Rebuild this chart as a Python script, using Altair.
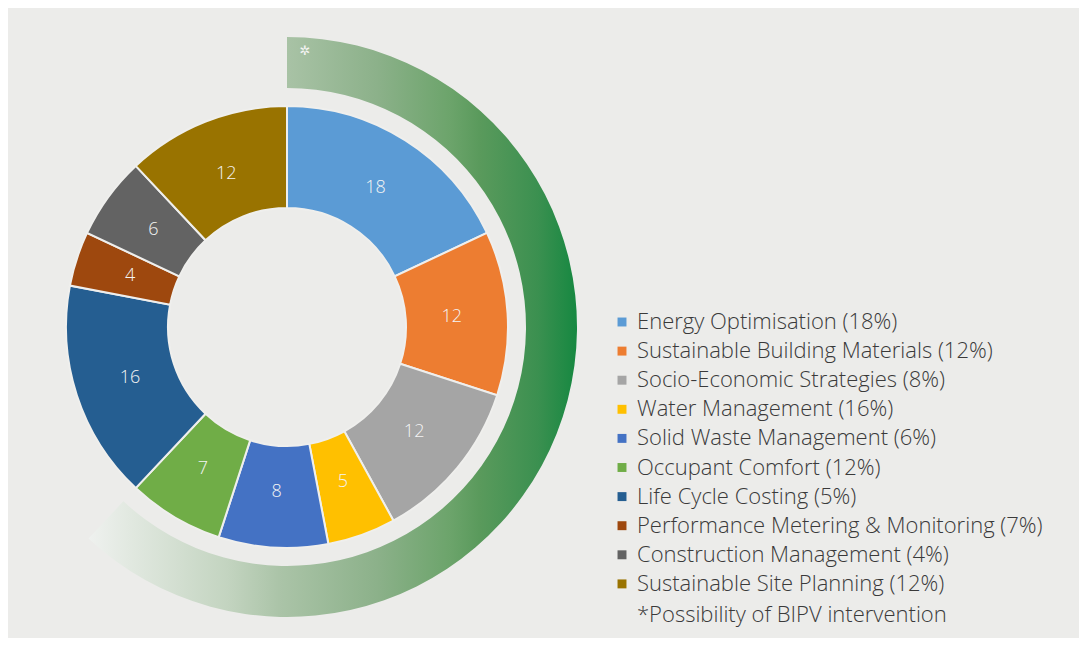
import math
import altair as alt
import pandas as pd

# ---- data ----
categories = [
    "Energy Optimisation (18%)",
    "Sustainable Building Materials (12%)",
    "Socio-Economic Strategies (8%)",
    "Water Management (16%)",
    "Solid Waste Management (6%)",
    "Occupant Comfort (12%)",
    "Life Cycle Costing (5%)",
    "Performance Metering & Monitoring (7%)",
    "Construction Management (4%)",
    "Sustainable Site Planning (12%)",
]
values = [18, 12, 12, 5, 8, 7, 16, 4, 6, 12]
colors = ["#5b9bd5", "#ed7d31", "#a5a5a5", "#ffc000", "#4472c4",
          "#70ad47", "#255e91", "#9e480e", "#636363", "#997300"]
bipv_count = 6  # first six categories sit under the BIPV arc
footnote = ["*Possibility of BIPV intervention"]
star = ["\u2732"]

df = pd.DataFrame({"cat": categories, "value": values})
df["end"] = df["value"].cumsum()
df["start"] = df["end"] - df["value"]
df["mid"] = (df["start"] + df["end"]) / 2

bipv = pd.DataFrame({"start": [0], "end": [int(df["end"].iloc[bipv_count - 1])]})

total = sum(values)
theta_scale = alt.Scale(domain=[0, total], range=[0, 2 * math.pi])

CX, CY = 279, 319
FONT = "Open Sans"
LEG_FS = 22

grad = alt.Gradient(
    gradient="linear",
    x1=0, x2=1, y1=0, y2=0,
    stops=[
        alt.GradientStop(offset=0.0, color="#eff1ef"),
        alt.GradientStop(offset=0.08, color="#e2e9e1"),
        alt.GradientStop(offset=0.285, color="#c3d4c0"),
        alt.GradientStop(offset=0.39, color="#abc4a8"),
        alt.GradientStop(offset=0.59, color="#8cb18a"),
        alt.GradientStop(offset=0.74, color="#6ca46b"),
        alt.GradientStop(offset=0.80, color="#5a9a5c"),
        alt.GradientStop(offset=0.92, color="#3b9050"),
        alt.GradientStop(offset=1.0, color="#168841"),
    ],
)

bipv_arc = alt.Chart(bipv).mark_arc(radius=290, radius2=239, fill=grad).encode(
    theta=alt.Theta("start:Q", scale=theta_scale, stack=False),
    theta2="end:Q",
    x=alt.value(CX),
    y=alt.value(CY),
)

donut = alt.Chart(df).mark_arc(
    radius=221, radius2=119, stroke="#efefed", strokeWidth=2
).encode(
    theta=alt.Theta("start:Q", scale=theta_scale, stack=False),
    theta2="end:Q",
    x=alt.value(CX),
    y=alt.value(CY),
    color=alt.Color(
        "cat:N",
        scale=alt.Scale(domain=categories, range=colors),
        sort=categories,
        title=None,
        legend=alt.Legend(
            orient="none",
            legendX=603,
            legendY=303,
            labelFont=FONT,
            labelFontSize=LEG_FS,
            labelFontWeight=300,
            labelColor="#3a3a3a",
            labelLimit=0,
            labelOffset=4,
            symbolType="square",
            symbolSize=80,
            symbolStrokeWidth=0,
            rowPadding=7.1,
        ),
    ),
)

labels = alt.Chart(df).mark_text(
    radius=165, fontSize=18, color="#f4f4f4", font=FONT, fontWeight=300,
    baseline="middle", align="center"
).encode(
    theta=alt.Theta("mid:Q", scale=theta_scale, stack=False),
    x=alt.value(CX),
    y=alt.value(CY),
    text="value:Q",
)

star_mark = alt.Chart(pd.DataFrame({"t": star})).mark_text(
    fontSize=13, color="#f4f4f4", font="DejaVu Sans", align="center", baseline="middle"
).encode(x=alt.value(297), y=alt.value(43), text="t:N")

note = alt.Chart(pd.DataFrame({"t": footnote})).mark_text(
    fontSize=LEG_FS, color="#3a3a3a", font=FONT, fontWeight=300, align="left", baseline="middle"
).encode(x=alt.value(629), y=alt.value(607), text="t:N")

chart = alt.layer(bipv_arc, donut, labels, star_mark, note).properties(
    width=1071,
    height=630,
    padding=0,
    autosize=alt.AutoSizeParams(type="none"),
    background="#ececea",
).configure_view(strokeWidth=0)

chart.save("out.html", embed_options={"renderer": "svg", "actions": False})
